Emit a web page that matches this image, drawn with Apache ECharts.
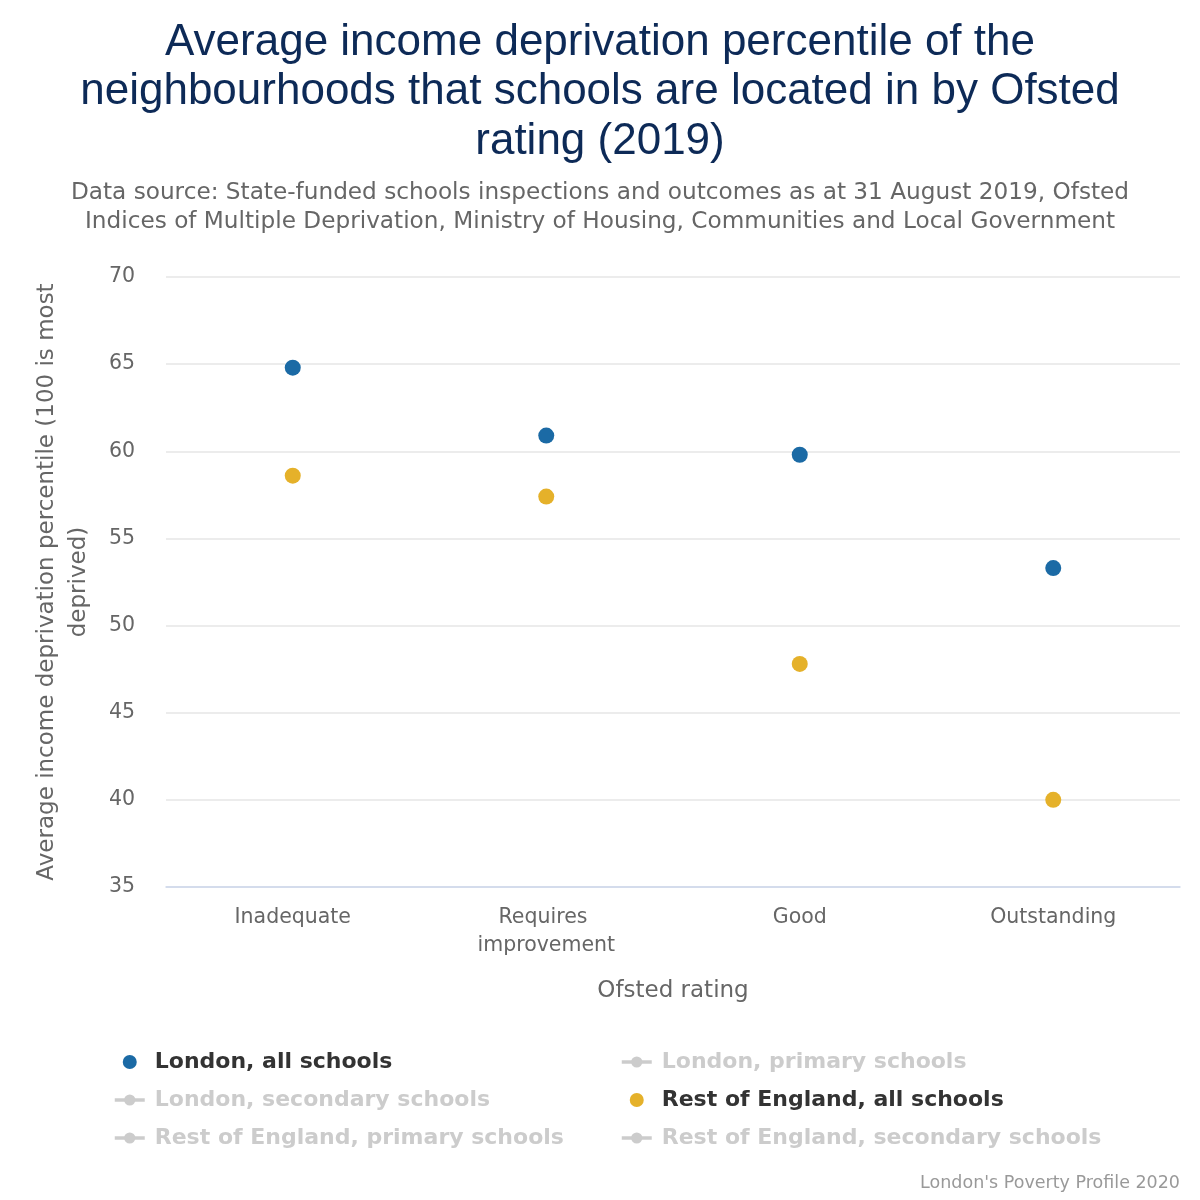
<!DOCTYPE html>
<html>
<head>
<meta charset="utf-8">
<script src="https://cdn.jsdelivr.net/npm/echarts@6/dist/echarts.min.js"></script>
<style>html,body{margin:0;padding:0;background:#fff}#c{width:1200px;height:1200px}</style>
</head>
<body>
<div id="c"></div>
<script>
const categories = ['Inadequate', 'Requires improvement', 'Good', 'Outstanding'];
const londonAll = [64.8, 60.9, 59.8, 53.3];
const restAll = [58.6, 57.4, 47.8, 40.0];
const londonPrimary = [];
const londonSecondary = [];
const restPrimary = [];
const restSecondary = [];
const yTicks = { min: 35, max: 70, interval: 5 };

const titleText = 'Average income deprivation percentile of the\nneighbourhoods that schools are located in by Ofsted\nrating (2019)';
const subtitleText = 'Data source: State-funded schools inspections and outcomes as at 31 August 2019, Ofsted\nIndices of Multiple Deprivation, Ministry of Housing, Communities and Local Government';

const FONT = 'DejaVu Sans';
const chart = echarts.init(document.getElementById('c'), null, { renderer: 'canvas' });

const legendCommon = {
  orient: 'vertical',
  padding: 0,
  itemWidth: 30,
  itemHeight: 14,
  itemGap: 14,
  inactiveColor: '#cccccc',
  lineStyle: { width: 3, inactiveWidth: 3.5, inactiveColor: '#cccccc' },
  textStyle: { fontFamily: FONT, fontSize: 22, fontWeight: 'bold', color: '#333333', lineHeight: 24, padding: [0, 0, 0, 5] },
  selected: {
    'London, all schools': true,
    'London, primary schools': false,
    'London, secondary schools': false,
    'Rest of England, all schools': true,
    'Rest of England, primary schools': false,
    'Rest of England, secondary schools': false
  }
};

chart.setOption({
  backgroundColor: '#ffffff',
  animation: false,
  title: [
    {
      text: titleText,
      left: 'center', top: 13,
      textStyle: { fontFamily: 'Liberation Sans', fontSize: 44, fontWeight: 'normal', color: '#0d2a57', lineHeight: 49.5, align: 'center' }
    },
    {
      text: subtitleText,
      left: 'center', top: 173,
      textStyle: { fontFamily: FONT, fontSize: 23.2, fontWeight: 'normal', color: '#666666', lineHeight: 29, align: 'center' }
    },
    {
      text: "London's Poverty Profile 2020",
      right: 15, top: 1169,
      textStyle: { fontFamily: FONT, fontSize: 17.5, fontWeight: 'normal', color: '#999999' }
    }
  ],
  legend: [
    Object.assign({}, legendCommon, {
      left: 113, top: 1050,
      data: ['London, all schools', 'London, secondary schools', 'Rest of England, primary schools']
    }),
    Object.assign({}, legendCommon, {
      left: 620, top: 1050,
      data: ['London, primary schools', 'Rest of England, all schools', 'Rest of England, secondary schools']
    })
  ],
  grid: { left: 166, right: 20, top: 277, bottom: 313, containLabel: false },
  xAxis: {
    type: 'category',
    data: categories,
    name: 'Ofsted rating',
    nameLocation: 'middle',
    nameGap: 93,
    nameTextStyle: { fontFamily: FONT, fontSize: 23, color: '#666666' },
    axisLine: { show: true, lineStyle: { color: '#ccd6eb', width: 1.5 } },
    axisTick: { show: false },
    axisLabel: { fontFamily: FONT, fontSize: 20.5, color: '#666666', margin: 17, lineHeight: 28, width: 180, overflow: 'break', interval: 0 },
    splitLine: { show: false }
  },
  yAxis: {
    type: 'value',
    min: yTicks.min, max: yTicks.max, interval: yTicks.interval,
    name: 'Average income deprivation percentile (100 is most\ndeprived)',
    nameLocation: 'middle',
    nameRotate: 90,
    nameGap: 71,
    nameTextStyle: { fontFamily: FONT, fontSize: 23, color: '#666666', lineHeight: 32, align: 'center' },
    axisLine: { show: false },
    axisTick: { show: false },
    axisLabel: { fontFamily: FONT, fontSize: 20.5, color: '#666666', margin: 31 },
    splitLine: { show: true, lineStyle: { color: '#e6e6e6', width: 1.5 } }
  },
  series: [
    { name: 'London, all schools', type: 'scatter', data: londonAll, symbol: 'circle', symbolSize: 16, itemStyle: { color: '#1b6aa5', opacity: 1 } },
    { name: 'London, primary schools', type: 'line', data: londonPrimary, symbol: 'circle', symbolSize: 12, lineStyle: { width: 3 }, itemStyle: { color: '#8fb7dc' } },
    { name: 'London, secondary schools', type: 'line', data: londonSecondary, symbol: 'circle', symbolSize: 12, lineStyle: { width: 3 }, itemStyle: { color: '#0b3d6b' } },
    { name: 'Rest of England, all schools', type: 'scatter', data: restAll, symbol: 'circle', symbolSize: 16, itemStyle: { color: '#e5b12a', opacity: 1 } },
    { name: 'Rest of England, primary schools', type: 'line', data: restPrimary, symbol: 'circle', symbolSize: 12, lineStyle: { width: 3 }, itemStyle: { color: '#f2d47a' } },
    { name: 'Rest of England, secondary schools', type: 'line', data: restSecondary, symbol: 'circle', symbolSize: 12, lineStyle: { width: 3 }, itemStyle: { color: '#a87a10' } }
  ]
});
</script>
</body>
</html>
